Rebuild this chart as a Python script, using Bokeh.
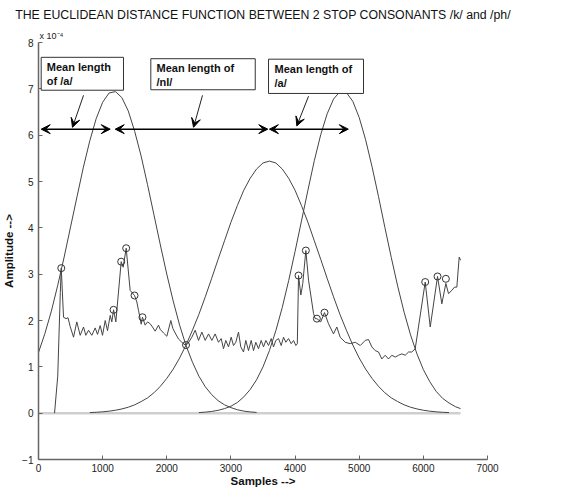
from bokeh.plotting import figure
from bokeh.models import Label, Arrow, VeeHead, BoxAnnotation, FixedTicker, Title
from bokeh.embed import file_html
from bokeh.resources import INLINE

# ---------------- data (amplitudes in units of 1e-4) ----------------
x_ticks = [0, 1000, 2000, 3000, 4000, 5000, 6000, 7000]
y_ticks = [-1, 0, 1, 2, 3, 4, 5, 6, 7, 8]

# window 1 (peak near 1170 samples)
g1_x = [0, 100, 200, 300, 400, 500, 600, 700, 800, 900, 1000, 1100, 1200, 1300, 1400,
        1500, 1600, 1700, 1800, 1900, 2000, 2100, 2200, 2300, 2400, 2500, 2600, 2700,
        2800, 2900, 3000, 3100, 3200, 3300, 3400]
g1_y = [1.31, 1.72, 2.20, 2.76, 3.37, 4.02, 4.67, 5.31, 5.88, 6.36, 6.71, 6.91, 6.94, 6.81,
        6.52, 6.08, 5.55, 4.93, 4.28, 3.63, 3.00, 2.42, 1.90, 1.46, 1.10, 0.80, 0.57, 0.40,
        0.27, 0.18, 0.12, 0.074, 0.045, 0.027, 0.016]

# window 2 (peak near 3600 samples)
g2_x = [800, 900, 1000, 1100, 1200, 1300, 1400, 1500, 1600, 1700, 1800, 1900, 2000, 2100,
        2200, 2300, 2400, 2500, 2600, 2700, 2800, 2900, 3000, 3100, 3200, 3300, 3400, 3500,
        3600, 3700, 3800, 3900, 4000, 4100, 4200, 4300, 4400, 4500, 4600, 4700, 4800, 4900,
        5000, 5100, 5200, 5300, 5400, 5500, 5600, 5700, 5800, 5900, 6000, 6100, 6200, 6300, 6400]
g2_y = [0.013, 0.019, 0.029, 0.043, 0.063, 0.091, 0.129, 0.18, 0.25, 0.33, 0.44, 0.58, 0.75,
        0.95, 1.19, 1.47, 1.79, 2.13, 2.51, 2.91, 3.32, 3.72, 4.12, 4.48, 4.81, 5.07, 5.27,
        5.40, 5.44, 5.40, 5.27, 5.07, 4.81, 4.48, 4.12, 3.72, 3.32, 2.91, 2.51, 2.13, 1.79,
        1.47, 1.19, 0.95, 0.75, 0.58, 0.44, 0.33, 0.25, 0.18, 0.129, 0.091, 0.063, 0.043,
        0.029, 0.019, 0.013]

# window 3 (peak near 4740 samples)
g3_x = [2500, 2600, 2700, 2800, 2900, 3000, 3100, 3200, 3300, 3400, 3500, 3600, 3700, 3800,
        3900, 4000, 4100, 4200, 4300, 4400, 4500, 4600, 4700, 4800, 4900, 5000, 5100, 5200,
        5300, 5400, 5500, 5600, 5700, 5800, 5900, 6000, 6100, 6200, 6300, 6400, 6500, 6580]
g3_y = [0.0125, 0.022, 0.037, 0.061, 0.098, 0.15, 0.23, 0.35, 0.51, 0.72, 1.00, 1.35, 1.78,
        2.28, 2.86, 3.49, 4.15, 4.81, 5.45, 6.01, 6.46, 6.78, 6.94, 6.92, 6.73, 6.38, 5.90,
        5.32, 4.68, 4.01, 3.36, 2.74, 2.18, 1.69, 1.28, 0.94, 0.68, 0.47, 0.32, 0.22, 0.14, 0.098]

# Euclidean distance function
sig_x = [250, 300, 340, 355, 390, 430, 460, 494, 546, 597, 650, 702, 738, 780, 831, 884, 920,
         962, 998, 1040, 1076, 1118, 1143, 1170, 1206, 1289, 1320, 1367, 1429, 1497, 1533,
         1559, 1585, 1601, 1621, 1663, 1700, 1741, 1777, 1819, 1871, 1897, 1949, 2001, 2063,
         2094, 2131, 2183, 2235, 2287, 2328, 2391, 2443, 2495, 2547, 2599, 2651, 2702, 2754,
         2806, 2848, 2884, 2920, 2962, 3004, 3040, 3076, 3118, 3154, 3196, 3232, 3274, 3316,
         3352, 3388, 3430, 3472, 3508, 3544, 3586, 3628, 3664, 3700, 3742, 3784, 3820, 3856,
         3898, 3940, 3976, 4012, 4035, 4054, 4090, 4120, 4168, 4210, 4288, 4314, 4340, 4400,
         4459, 4521, 4599, 4651, 4703, 4781, 4860, 4938, 5016, 5094, 5145, 5197, 5250, 5301,
         5353, 5405, 5457, 5509, 5561, 5613, 5665, 5717, 5769, 5820, 5873, 6029, 6107, 6221,
         6288, 6351, 6392, 6444, 6486, 6522, 6559, 6580]
sig_y = [0.0, 0.8, 2.6, 3.13, 2.07, 2.04, 2.06, 1.87, 1.64, 1.97, 1.68, 1.86, 1.68, 1.79, 1.68,
         1.84, 1.70, 1.89, 1.68, 2.00, 1.78, 2.11, 1.97, 2.23, 1.97, 3.27, 3.15, 3.56, 2.65,
         2.54, 2.40, 2.22, 2.04, 1.92, 2.07, 1.90, 1.97, 1.93, 1.86, 1.77, 1.90, 1.81, 1.73,
         1.66, 2.00, 1.83, 1.73, 1.60, 1.53, 1.47, 1.50, 1.64, 1.79, 1.57, 1.75, 1.57, 1.71,
         1.57, 1.71, 1.53, 1.61, 1.39, 1.57, 1.43, 1.64, 1.46, 1.53, 1.75, 1.43, 1.32, 1.57,
         1.35, 1.57, 1.35, 1.53, 1.39, 1.57, 1.43, 1.57, 1.46, 1.61, 1.43, 1.57, 1.61, 1.46,
         1.64, 1.53, 1.61, 1.50, 1.57, 1.46, 1.50, 2.97, 2.55, 2.80, 3.51, 2.87, 2.15, 2.04,
         2.04, 1.97, 2.17, 1.93, 1.71, 1.86, 1.64, 1.53, 1.50, 1.53, 1.46, 1.57, 1.59, 1.43,
         1.35, 1.32, 1.17, 1.25, 1.17, 1.25, 1.21, 1.25, 1.28, 1.25, 1.32, 1.32, 1.39, 2.83,
         1.86, 2.95, 2.36, 2.80, 2.58, 2.65, 2.72, 2.72, 3.37, 3.30]

# detected peaks (circles)
pk_x = [355, 1170, 1289, 1367, 1497, 1621, 2300, 4054, 4168, 4340, 4459, 6029, 6221, 6351]
pk_y = [3.13, 2.23, 3.27, 3.56, 2.54, 2.07, 1.47, 2.97, 3.51, 2.04, 2.17, 2.83, 2.95, 2.90]

# zero reference line
base_x = [0, 6580]
base_y = [0, 0]

FONT = "Liberation Sans"

p = figure(frame_width=449, frame_height=417, x_range=(0, 7000), y_range=(-1, 8),
           output_backend="svg", toolbar_location=None,
           min_border_left=33, min_border_right=64, min_border_top=38, min_border_bottom=28,
           title="THE EUCLIDEAN DISTANCE FUNCTION BETWEEN 2 STOP CONSONANTS /k/ and /ph/")
p.title.text_font = FONT
p.title.text_font_size = "12.3px"
p.title.text_font_style = "normal"
p.title.text_color = "#111111"
p.title.align = "center"
p.title.standoff = 10

# exponent of the y axis, just above the axis top
p.add_layout(Title(text="x 10\u207b\u2074", align="left", offset=1, standoff=4,
                   text_font=FONT, text_font_size="9px", text_font_style="normal",
                   text_color="#222222"), "above")

p.grid.visible = False
p.outline_line_color = None
p.background_fill_color = "white"
p.border_fill_color = "white"

for ax in (p.xaxis[0], p.yaxis[0]):
    ax.axis_line_color = "#666666"
    ax.axis_line_width = 1.5
    ax.major_tick_line_color = "#666666"
    ax.major_tick_in = 4
    ax.major_tick_out = 0
    ax.minor_tick_line_color = None
    ax.major_label_text_font = FONT
    ax.major_label_text_font_size = "10px"
    ax.major_label_text_color = "#222222"
    ax.axis_label_text_font = FONT
    ax.axis_label_text_font_size = "11.5px"
    ax.axis_label_text_font_style = "bold"
    ax.axis_label_text_color = "#111111"

p.xaxis.ticker = FixedTicker(ticks=x_ticks)
p.yaxis.ticker = FixedTicker(ticks=y_ticks)
p.xaxis.axis_label = "Samples -->"
p.yaxis.axis_label = "Amplitude -->"
p.xaxis.major_label_standoff = 4
p.xaxis.axis_label_standoff = 0
p.yaxis.major_label_standoff = 5
p.yaxis.axis_label_standoff = 4

# curves
p.line(base_x, base_y, line_color="#cfcfcf", line_width=2.5)
CURVE = "#444444"
p.line(g1_x, g1_y, line_color=CURVE, line_width=1)
p.line(g2_x, g2_y, line_color=CURVE, line_width=1)
p.line(g3_x, g3_y, line_color=CURVE, line_width=1)
p.line(sig_x, sig_y, line_color=CURVE, line_width=1)
p.scatter(pk_x, pk_y, marker="circle", size=7, fill_color=None, line_color="#333333", line_width=1)

# span arrows
def harrow(x0, x1, y):
    p.add_layout(Arrow(x_start=x0, y_start=y, x_end=x1, y_end=y,
                       start=VeeHead(size=9, fill_color="black", line_color="black"),
                       end=VeeHead(size=9, fill_color="black", line_color="black"),
                       line_color="black", line_width=1.5))

harrow(42, 1118, 6.13)
harrow(1196, 3575, 6.13)
harrow(3600, 4830, 6.13)

# boxes with text
boxes = [(42, 1325, 6.97, 7.68), (1751, 3379, 6.98, 7.65), (3586, 5067, 6.90, 7.64)]
for l, r, b, t in boxes:
    p.add_layout(BoxAnnotation(left=l, right=r, bottom=b, top=t, fill_color="white",
                               fill_alpha=1, line_color="#333333", line_width=1, line_alpha=1))

texts = [(129, 7.47, "Mean length"), (129, 7.17, "of /a/"),
         (1840, 7.44, "Mean length of"), (1840, 7.14, "/nl/"),
         (3680, 7.42, "Mean length of"), (3680, 7.12, "/a/")]
for tx, ty, tt in texts:
    p.add_layout(Label(x=tx, y=ty, text=tt, text_font=FONT, text_font_size="11px",
                       text_font_style="bold", text_baseline="middle", text_color="#111111"))

# callout arrows
callouts = [(702, 6.86, 530, 6.17), (2557, 6.86, 2417, 6.17), (4210, 6.84, 4027, 6.20)]
for x0, y0, x1, y1 in callouts:
    p.add_layout(Arrow(x_start=x0, y_start=y0, x_end=x1, y_end=y1,
                       end=VeeHead(size=9, fill_color="black", line_color="black"),
                       line_color="#222222", line_width=1))

open("out.html", "w").write(file_html(p, INLINE))
